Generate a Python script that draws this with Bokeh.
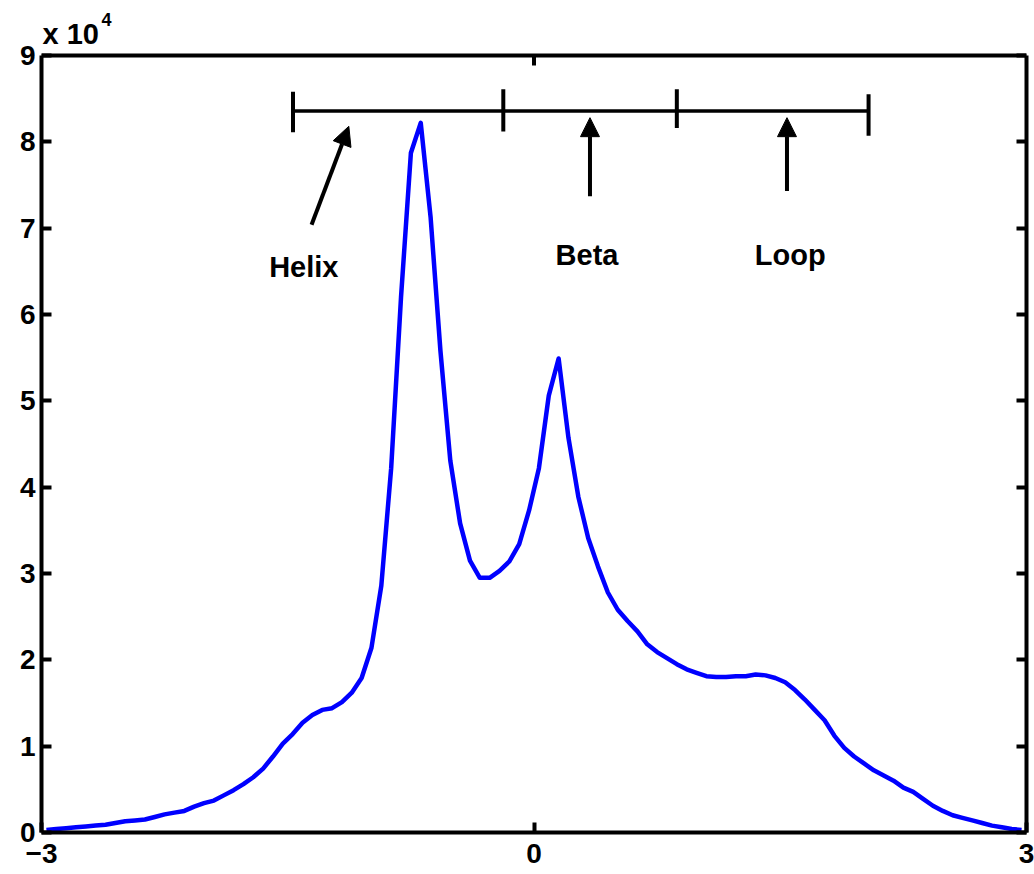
from bokeh.plotting import figure
from bokeh.models import (Range1d, LinearAxis, FixedTicker, Label, Arrow,
                          NormalHead, ColumnDataSource, Span)
from bokeh.embed import file_html
from bokeh.resources import INLINE

# ---- data ----
angle = [-2.97, -2.91, -2.85, -2.79, -2.73, -2.67, -2.61, -2.55, -2.49, -2.43,
         -2.37, -2.31, -2.25, -2.19, -2.13, -2.07, -2.01, -1.95, -1.89, -1.83,
         -1.77, -1.71, -1.65, -1.59, -1.53, -1.47, -1.41, -1.35, -1.29, -1.23,
         -1.17, -1.11, -1.05, -0.99, -0.93, -0.87, -0.81, -0.75, -0.69, -0.63,
         -0.57, -0.51, -0.45, -0.39, -0.33, -0.27, -0.21, -0.15, -0.09, -0.03,
         0.03, 0.09, 0.15, 0.21, 0.27, 0.33, 0.39, 0.45, 0.51, 0.57,
         0.63, 0.69, 0.75, 0.81, 0.87, 0.93, 0.99, 1.05, 1.11, 1.17,
         1.23, 1.29, 1.35, 1.41, 1.47, 1.53, 1.59, 1.65, 1.71, 1.77,
         1.83, 1.89, 1.95, 2.01, 2.07, 2.13, 2.19, 2.25, 2.31, 2.37,
         2.43, 2.49, 2.55, 2.61, 2.67, 2.73, 2.79, 2.85, 2.91, 2.97]

counts = [300, 400, 500, 600, 700, 800, 900, 1100, 1300, 1400,
          1500, 1800, 2100, 2300, 2500, 3000, 3400, 3700, 4300, 4900,
          5600, 6400, 7400, 8800, 10300, 11400, 12700, 13600, 14200, 14400,
          15100, 16200, 17900, 21400, 28600, 42200, 62000, 78700, 82200, 71300,
          55800, 43100, 35800, 31500, 29500, 29500, 30300, 31400, 33400, 37300,
          42200, 50600, 54900, 45700, 38900, 34100, 30800, 27800, 25800, 24500,
          23300, 21800, 20900, 20200, 19500, 18900, 18500, 18100, 18000, 18000,
          18100, 18100, 18300, 18200, 17900, 17400, 16500, 15400, 14200, 13000,
          11200, 9800, 8800, 8000, 7200, 6600, 6000, 5200, 4700, 3900,
          3100, 2500, 2000, 1700, 1400, 1100, 800, 600, 400, 300]

x_ticks = [-3, 0, 3]
x_tick_labels = ["\u22123", "0", "3"]
y_ticks = [0, 10000, 20000, 30000, 40000, 50000, 60000, 70000, 80000, 90000]
y_tick_labels = ["0", "1", "2", "3", "4", "5", "6", "7", "8", "9"]
y_max = 90000

# annotation: region bracket
bracket_x = [-1.468, -0.187, 0.870, 2.038]
bracket_top = [85800, 86100, 86100, 85500]
bracket_bottom = [81100, 81200, 81600, 80700]
bracket_y = 83560

region_names = ["Helix", "Beta", "Loop"]
label_x = [-1.402, 0.323, 1.561]
label_y = [65500, 66900, 66900]
arrow_x0 = [-1.355, 0.341, 1.541]
arrow_y0 = [70400, 73700, 74300]
arrow_x1 = [-1.128, 0.341, 1.541]
arrow_y1 = [81800, 82800, 82800]

FONT = "Liberation Sans"

# layout: frame spans the full canvas height above the bottom axis; the box
# top edge (y = 9e4) sits 55 px below the canvas top.
H, BOTTOM, BOX_TOP = 874, 42, 55
frame_h = H - BOTTOM
y_end = y_max * frame_h / (frame_h - BOX_TOP)

p = figure(width=1034, height=H, output_backend="svg", toolbar_location=None,
           x_range=Range1d(-3, 3), y_range=Range1d(0, y_end),
           min_border_left=41, min_border_right=8, min_border_top=0,
           min_border_bottom=BOTTOM)
p.outline_line_color = None
p.xgrid.visible = False
p.ygrid.visible = False
p.background_fill_color = "white"
p.border_fill_color = "white"

xa = p.below[0]
ya = p.left[0]

src = ColumnDataSource(dict(x=angle, y=counts))
p.line("x", "y", source=src, line_color="#0000ff", line_width=4.5,
       line_join="round")

right = LinearAxis()
p.add_layout(right, "right")

for ax in [xa, ya, right]:
    ax.axis_line_width = 4
    ax.axis_line_color = "black"
    ax.major_tick_line_width = 4
    ax.major_tick_line_color = "black"
    ax.major_tick_in = 10
    ax.major_tick_out = 0
    ax.minor_tick_in = 0
    ax.minor_tick_out = 0
    ax.major_label_text_font = FONT
    ax.major_label_text_font_style = "bold"
    ax.major_label_text_font_size = "28px"
    ax.major_label_text_color = "black"

xa.ticker = FixedTicker(ticks=x_ticks)
ya.ticker = FixedTicker(ticks=y_ticks)
right.ticker = FixedTicker(ticks=y_ticks)
ya.bounds = (0, y_max)
right.bounds = (0, y_max)

xa.major_label_overrides = {t: s for t, s in zip(x_ticks, x_tick_labels)}
ya.major_label_overrides = {t: s for t, s in zip(y_ticks, y_tick_labels)}
xa.major_label_standoff = 11
ya.major_label_standoff = 6
right.major_label_overrides = {t: "" for t in y_ticks}
right.major_label_text_font_size = "0px"
right.major_label_standoff = 0

# top edge of the box and its inward tick marks
p.add_layout(Span(location=y_max, dimension="width", line_color="black",
                  line_width=4))
tick_len = y_end * 10 / frame_h
p.segment(x0=x_ticks[1:2], y0=[y_max], x1=x_ticks[1:2], y1=[y_max - tick_len],
          line_color="black", line_width=4)

# exponent "x 10^4"
p.add_layout(Label(x=-3, y=y_max, x_offset=1, y_offset=22, text="x 10",
                   text_font=FONT, text_font_style="bold", text_font_size="29px",
                   text_baseline="alphabetic", text_align="left",
                   text_color="black"))
p.add_layout(Label(x=-3, y=y_max, x_offset=60, y_offset=36, text="4",
                   text_font=FONT, text_font_style="bold", text_font_size="18px",
                   text_baseline="alphabetic", text_align="left",
                   text_color="black"))

# bracket
p.segment(x0=[bracket_x[0]], y0=[bracket_y], x1=[bracket_x[-1]], y1=[bracket_y],
          line_color="black", line_width=3.5)
p.segment(x0=bracket_x, y0=bracket_bottom, x1=bracket_x, y1=bracket_top,
          line_color="black", line_width=4)

# arrows and labels
for i in range(3):
    p.add_layout(Arrow(end=NormalHead(size=19, fill_color="black",
                                      line_color="black", line_width=1),
                       x_start=arrow_x0[i], y_start=arrow_y0[i],
                       x_end=arrow_x1[i], y_end=arrow_y1[i],
                       line_width=4, line_color="black"))
    p.add_layout(Label(x=label_x[i], y=label_y[i], text=region_names[i],
                       text_font=FONT, text_font_style="bold",
                       text_font_size="29px", text_align="center",
                       text_baseline="alphabetic", text_color="black"))

open("out.html", "w").write(file_html(p, INLINE))
